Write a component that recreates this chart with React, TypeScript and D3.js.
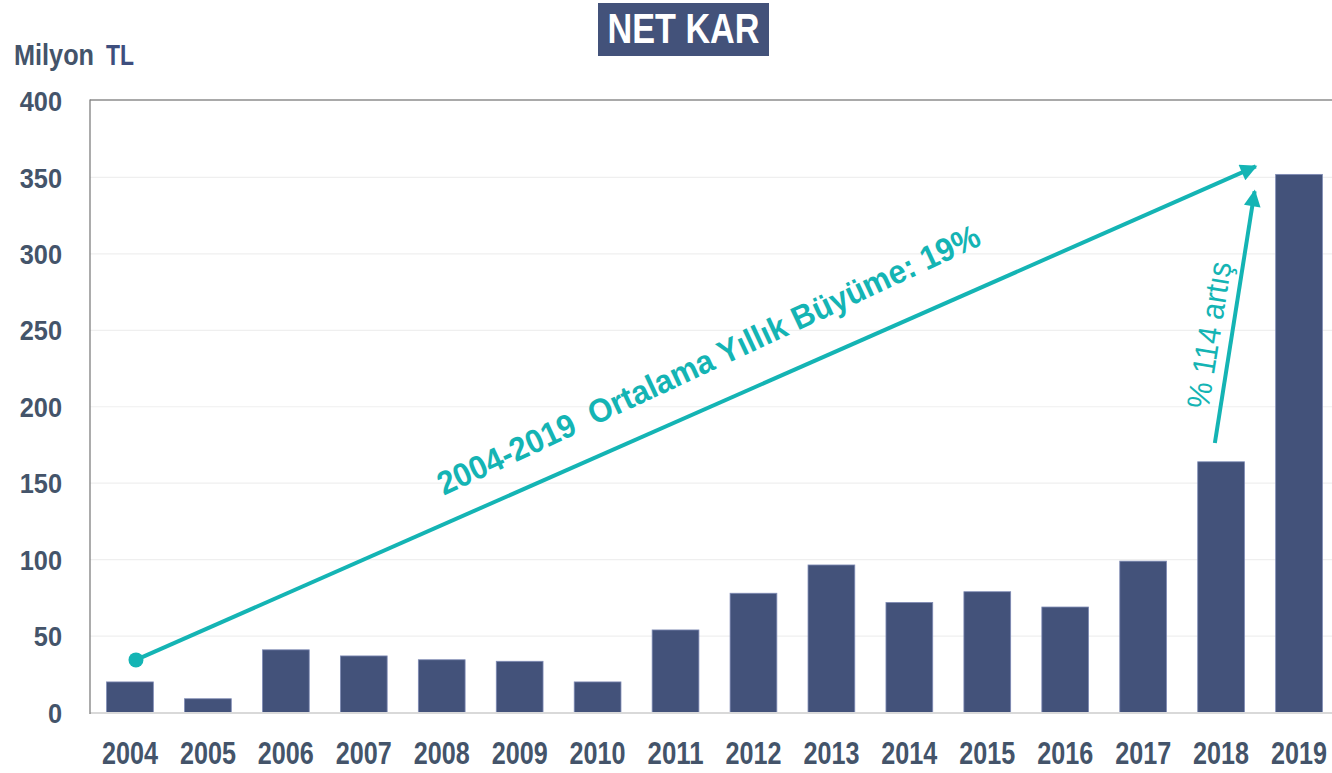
import React from "react";
import * as d3 from "d3";

const years = ["2004","2005","2006","2007","2008","2009","2010","2011","2012","2013","2014","2015","2016","2017","2018","2019"];
const netKar = [20, 9, 41, 37, 34.5, 33.5, 20, 54, 78, 96.5, 72, 79, 69, 99, 164, 352];
const yTicks = [0, 50, 100, 150, 200, 250, 300, 350, 400];
const title = "NET KAR";
const unitWord = "Milyon";
const unitCurrency = "TL";
// annotation arrows in data space: [yearIndex, value]
const growthArrow = { from: [0.077, 34.4], to: [14.445, 357.2] };
const jumpArrow = { from: [13.92, 176.3], to: [14.43, 341] };
const growthText = { text: "2004-2019  Ortalama Yıllık Büyüme: 19%", at: [7.42, 231], angle: -25 };
const jumpText = { text: "% 114 artış", at: [13.84, 247], angle: -81 };

const W = 1332, H = 773;
const FONT = "'Liberation Sans Narrow', 'Liberation Sans', Arial, sans-serif";
const SLATE = "#44546A";
const BAR = "#43527A";
const TEAL = "#14B4B4";

export default function App() {
  const plotLeft = 90, plotTop = 101, plotBottom = 712.5;
  const x = d3.scaleBand<string>().domain(years).range([91, 1338]).paddingInner(0.4).paddingOuter(0.2);
  const y = d3.scaleLinear().domain([0, 400]).range([plotBottom, plotTop]);
  const step = x.step();
  const cx0 = (x(years[0]) as number) + x.bandwidth() / 2;
  const px = (i: number) => cx0 + i * step;
  const pt = (p: number[]) => [px(p[0]), y(p[1])];

  const g1a = pt(growthArrow.from), g1b = pt(growthArrow.to);
  const g2a = pt(jumpArrow.from), g2b = pt(jumpArrow.to);
  const t1 = pt(growthText.at), t2 = pt(jumpText.at);

  return (
    <svg width={W} height={H} style={{ position: "absolute", left: 0, top: 0, background: "#fff" }} fontFamily={FONT}>
      <defs>
        <marker id="arr" viewBox="0 0 10 10" refX="9" refY="5" markerWidth="5" markerHeight="4.2" orient="auto" markerUnits="strokeWidth">
          <path d="M0,0 L10,5 L0,10 z" fill={TEAL} />
        </marker>
      </defs>
      {/* title */}
      <rect x={598} y={3} width={171} height={53} fill={BAR} />
      <text x={683.5} y={43} textAnchor="middle" fill="#fff" fontWeight="bold" fontSize={42} textLength={152} lengthAdjust="spacingAndGlyphs">{title}</text>
      {/* unit */}
      <text x={14} y={65} fontWeight="bold" fontSize={29} textLength={80} lengthAdjust="spacingAndGlyphs" fill={SLATE}>{unitWord}</text>
      <text x={106} y={65} fontWeight="bold" fontSize={29} textLength={28} lengthAdjust="spacingAndGlyphs" fill="#3E4E7E">{unitCurrency}</text>
      {/* gridlines */}
      {yTicks.filter(t => t > 0 && t < 400).map(t => (
        <line key={t} x1={plotLeft} x2={W} y1={y(t)} y2={y(t)} stroke="#EFEFEF" strokeWidth={1.2} />
      ))}
      {/* top border */}
      <line x1={plotLeft} x2={W} y1={y(400) - 1} y2={y(400) - 1} stroke="#8C8C8C" strokeWidth={1.5} />
      {/* y tick labels */}
      {yTicks.map(t => (
        <text key={t} x={62} y={y(t)} dy="0.36em" textAnchor="end" fontWeight="bold" fontSize={28} fill={SLATE}
          textLength={String(t).length * 14.1} lengthAdjust="spacingAndGlyphs">{t}</text>
      ))}
      {/* bars */}
      {years.map((yr, i) => (
        <rect key={yr} x={x(yr)} y={y(netKar[i])} width={x.bandwidth()} height={y(0) - y(netKar[i])}
          fill={BAR} stroke="#7F8BB5" strokeWidth={0.8} />
      ))}
      {/* baseline */}
      <line x1={plotLeft} x2={W} y1={y(0) + 0.5} y2={y(0) + 0.5} stroke="#D9D9D9" strokeWidth={2} />
      {/* left axis */}
      <line x1={plotLeft} x2={plotLeft} y1={y(400) - 1.5} y2={y(0) + 1.5} stroke="#7F7F7F" strokeWidth={1.3} />
      {/* year labels */}
      {years.map(yr => (
        <text key={yr} x={(x(yr) as number) + x.bandwidth() / 2} y={764} textAnchor="middle" fontWeight="bold" fontSize={31}
          fill={SLATE} textLength={56} lengthAdjust="spacingAndGlyphs">{yr}</text>
      ))}
      {/* annotations */}
      <line x1={g1a[0]} y1={g1a[1]} x2={g1b[0]} y2={g1b[1]} stroke={TEAL} strokeWidth={4} markerEnd="url(#arr)" />
      <circle cx={g1a[0]} cy={g1a[1]} r={7.5} fill={TEAL} />
      <line x1={g2a[0]} y1={g2a[1]} x2={g2b[0]} y2={g2b[1]} stroke={TEAL} strokeWidth={4} markerEnd="url(#arr)" />
      <text transform={`translate(${t1[0]},${t1[1]}) rotate(${growthText.angle})`} textAnchor="middle" dy="0.36em"
        style={{ whiteSpace: "pre" }} fontWeight="bold" fontSize={33} fill={TEAL} textLength={595} lengthAdjust="spacingAndGlyphs">{growthText.text}</text>
      <text transform={`translate(${t2[0]},${t2[1]}) rotate(${jumpText.angle})`} textAnchor="middle" dy="0.36em"
        fontSize={32} fill={TEAL} textLength={148} lengthAdjust="spacingAndGlyphs">{jumpText.text}</text>
    </svg>
  );
}
